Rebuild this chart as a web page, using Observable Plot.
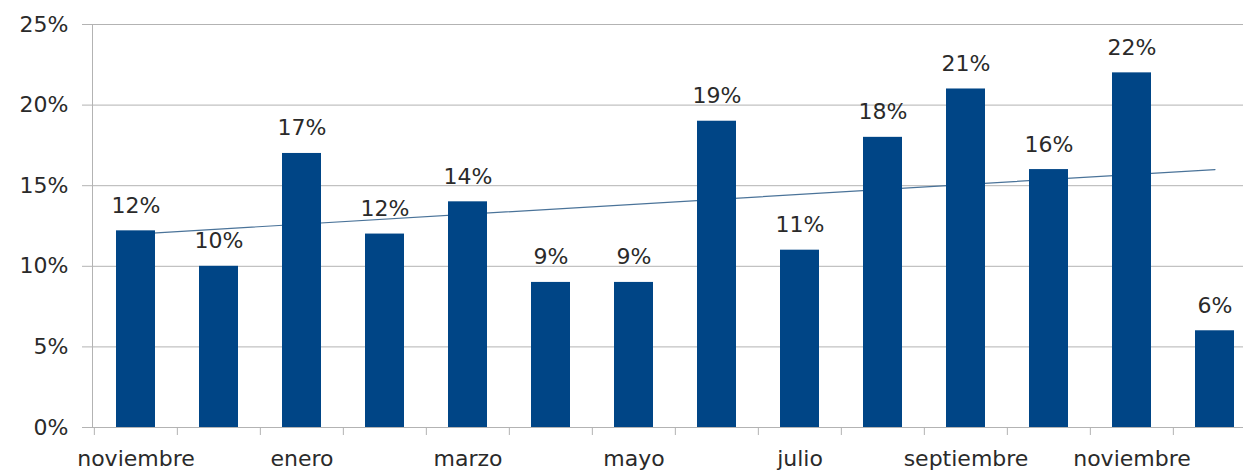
<!DOCTYPE html>
<html>
<head>
<meta charset="utf-8">
<script src="https://cdn.jsdelivr.net/npm/d3@7"></script>
<script src="https://cdn.jsdelivr.net/npm/@observablehq/plot@0.6"></script>
<style>
  html, body { margin: 0; padding: 0; background: #fff; }
  #chart svg { display: block; }
</style>
</head>
<body>
<div id="chart"></div>
<script>
// ---- data ----
const months = ["noviembre","diciembre","enero","febrero","marzo","abril","mayo","junio","julio","agosto","septiembre","octubre","noviembre","diciembre"];
const values = [12.2, 10, 17, 12, 14, 9, 9, 19, 11, 18, 21, 16, 22, 6];
const valueLabels = ["12%","10%","17%","12%","14%","9%","9%","19%","11%","18%","21%","16%","22%","6%"];
const trendValues = [12.0, 16.0];          // linear trend, first and last month
const yTicks = [0, 5, 10, 15, 20, 25];
const xLabelEvery = 2;                      // every other month labelled

// ---- build ----
const keys = months.map((m, i) => `${i}|${m}`);
const data = keys.map((k, i) => ({key: k, value: values[i], label: valueLabels[i]}));
const trend = [{key: keys[0], value: trendValues[0]}, {key: keys[keys.length - 1], value: trendValues[1]}];

const W = 1243, H = 474;
const x0 = 92, x1 = 1258;
const step = (x1 - x0) / keys.length;
const font = 22;
const fam = "'DejaVu Sans', 'Liberation Sans', Arial, sans-serif";
const grey = "#b3b3b3";
const ink = "#2a2a2a";

const chart = Plot.plot({
  width: W,
  height: H,
  marginLeft: x0,
  marginRight: 0,
  marginTop: 24,
  marginBottom: 47,
  style: {fontFamily: fam, fontSize: font + "px", color: ink, background: "#fff"},
  x: {domain: keys, range: [x0, x1], paddingInner: 0.53, paddingOuter: 0.265},
  y: {domain: [0, 25]},
  marks: [
    Plot.gridY(yTicks, {stroke: grey, strokeOpacity: 1}),
    Plot.frame({anchor: "left", stroke: grey}),
    Plot.axisY({ticks: yTicks, tickFormat: d => d + "%", tickSize: 10, tickPadding: 14, stroke: grey, fill: ink, fontSize: font, label: null}),
    // boundary tick marks under the x axis
    Plot.axisX({ticks: keys, tickFormat: () => "", tickSize: 8, dx: -step / 2, stroke: grey, label: null}),
    Plot.axisX({ticks: keys.filter((k, i) => i % xLabelEvery === 0), tickFormat: k => k.split("|")[1], tickSize: 0, tickPadding: 23, fill: ink, fontSize: font, label: null}),
    Plot.line(trend, {x: "key", y: "value", stroke: "#4a7399", strokeWidth: 1.2}),
    Plot.barY(data, {x: "key", y: "value", fill: "#004586"}),
    Plot.text(data, {x: "key", y: "value", text: "label", lineAnchor: "bottom", dy: -18, fill: ink, fontSize: font})
  ]
});
document.getElementById("chart").appendChild(chart);
</script>
</body>
</html>
